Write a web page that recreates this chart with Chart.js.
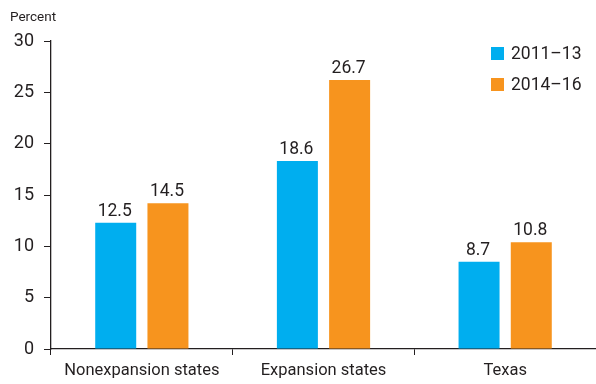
<!DOCTYPE html>
<html>
<head>
<meta charset="utf-8">
<title>Uninsured rate by state group</title>
<script src="https://cdn.jsdelivr.net/npm/chart.js@4.4.1/dist/chart.umd.min.js"></script>
<style>
  html, body { margin: 0; padding: 0; background: #fff; }
  .wrap { position: relative; width: 596px; height: 384px; }
  canvas { display: block; }
  .legend {
    position: absolute; left: 491px; top: 43px;
    font: 17.5px "Roboto", sans-serif; color: #231f20;
  }
  .legend div { height: 31px; line-height: 20px; white-space: nowrap; }
  .legend span { display: inline-block; width: 13px; height: 13px; margin-right: 7px; vertical-align: -1px; }
</style>
</head>
<body>
<div class="wrap">
  <canvas id="chart" width="596" height="384"></canvas>
  <div class="legend" id="legend"></div>
</div>
<script>
// ---- Data ----
const categories = ['Nonexpansion states', 'Expansion states', 'Texas'];
const seriesNames = ['2011–13', '2014–16'];
const values2011 = [12.3, 18.3, 8.5];
const values2014 = [14.2, 26.2, 10.4];
const labels2011 = ['12.5', '18.6', '8.7'];
const labels2014 = ['14.5', '26.7', '10.8'];
const yTicks = [0, 5, 10, 15, 20, 25, 30];

const colors = ['#00aeef', '#f7941e'];
const ink = '#231f20';
const font = '"Roboto", sans-serif';

// ---- Legend ----
const legendEl = document.getElementById('legend');
seriesNames.forEach((name, i) => {
  const row = document.createElement('div');
  row.innerHTML = `<span style="background:${colors[i]}"></span>${name}`;
  legendEl.appendChild(row);
});

// ---- Value labels + axis title ----
const barLabels = {
  id: 'barLabels',
  afterDatasetsDraw(chart) {
    const { ctx } = chart;
    const texts = [labels2011, labels2014];
    ctx.save();
    ctx.fillStyle = ink;
    ctx.font = `17.5px ${font}`;
    ctx.textAlign = 'center';
    ctx.textBaseline = 'alphabetic';
    chart.data.datasets.forEach((ds, di) => {
      chart.getDatasetMeta(di).data.forEach((bar, i) => {
        ctx.fillText(texts[di][i], bar.x - 1, bar.y - 7);
      });
    });
    ctx.textAlign = 'left';
    ctx.font = `13.5px ${font}`;
    ctx.fillText('Percent', 10, 21);
    ctx.restore();
  }
};

// ---- Chart ----
new Chart(document.getElementById('chart'), {
  type: 'bar',
  data: {
    labels: categories,
    datasets: [
      { label: seriesNames[0], data: values2011, backgroundColor: colors[0] },
      { label: seriesNames[1], data: values2014, backgroundColor: colors[1] }
    ]
  },
  options: {
    responsive: false,
    animation: false,
    devicePixelRatio: 1,
    categoryPercentage: 0.575,
    barPercentage: 0.785,
    layout: { padding: { top: 41, right: 0, left: 0, bottom: 0 } },
    plugins: { legend: { display: false }, tooltip: { enabled: false } },
    scales: {
      x: {
        grid: { drawOnChartArea: false, drawTicks: true, tickLength: 6, color: ink, offset: true },
        border: { color: ink, width: 1.3 },
        ticks: { color: ink, font: { family: font, size: 16.5 }, padding: 6 },
        afterFit: (scale) => { scale.height = 35; }
      },
      y: {
        min: 0, max: 30,
        afterBuildTicks: (scale) => { scale.ticks = yTicks.map(v => ({ value: v })); },
        grid: { drawOnChartArea: false, drawTicks: true, tickLength: 7, color: ink },
        border: { color: ink, width: 1.3 },
        ticks: { color: ink, font: { family: font, size: 18 }, padding: 10 },
        afterFit: (scale) => { scale.width = 51; }
      }
    }
  },
  plugins: [barLabels]
});
</script>
</body>
</html>
